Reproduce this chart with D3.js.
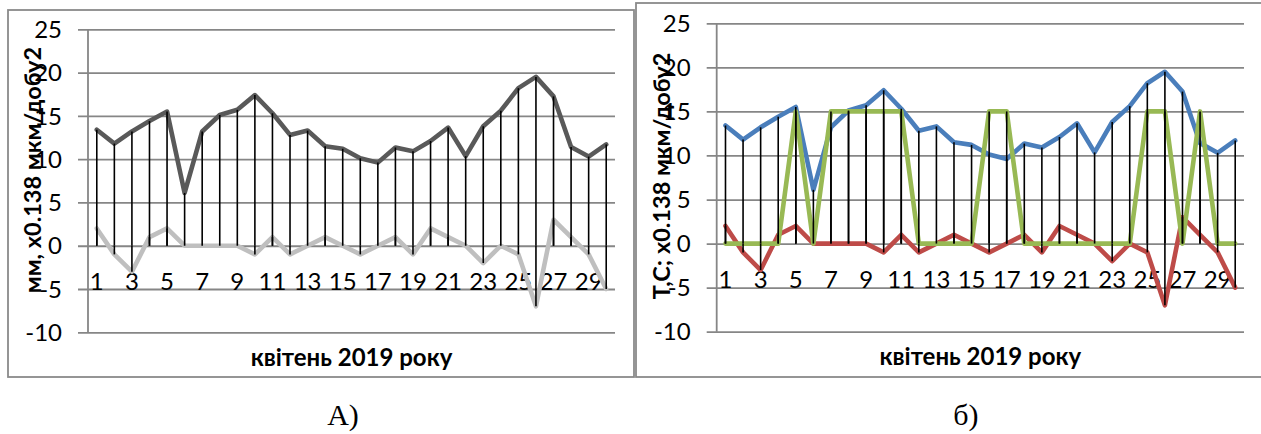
<!DOCTYPE html>
<html>
<head>
<meta charset="utf-8">
<script src="https://cdn.jsdelivr.net/npm/d3@7"></script>
<style>
  html, body { margin: 0; padding: 0; background: #fff; }
  svg { display: block; }
</style>
</head>
<body>
<svg id="chart" width="1261" height="434"></svg>
<script>
// ---- data ----
const days = [1,2,3,4,5,6,7,8,9,10,11,12,13,14,15,16,17,18,19,20,21,22,23,24,25,26,27,28,29,30];
const tickDays = [1,3,5,7,9,11,13,15,17,19,21,23,25,27,29];
const yTicks = [-10,-5,0,5,10,15,20,25];
const deformation = [13.4, 11.8, 13.2, 14.4, 15.5, 6.1, 13.2, 15.1, 15.7, 17.4, 15.3, 12.8, 13.3, 11.5, 11.2, 10.1, 9.6, 11.35, 10.9, 12.1, 13.65, 10.35, 13.8, 15.6, 18.2, 19.5, 17.25, 11.4, 10.3, 11.7];
const precipitation = [2, -1, -3, 1, 2, 0, 0, 0, 0, -1, 1, -1, 0, 1, 0, -1, 0, 1, -1, 2, 1, 0, -2, 0, -1, -7, 3, 1, -1, -5];
const temperature = [0, 0, 0, 0, 15, 0, 15, 15, 15, 15, 15, 0, 0, 0, 0, 15, 15, 0, 0, 0, 0, 0, 0, 0, 15, 15, 0, 15, 0, 0];
const xTitle = "квітень 2019 року";
const yTitleA = "мм, x0.138 мкм/добу2";
const yTitleB = "Т,С; x0.138 мкм/добу2";
const captions = ["А)", "б)"];

const svg = d3.select("#chart");
svg.append("rect").attr("width", 1261).attr("height", 434).attr("fill", "#fff");

const FONT = "Lato, 'Open Sans', sans-serif";

function drawChart(cfg) {
  const g = svg.append("g");
  // frame
  g.append("rect")
    .attr("x", cfg.frame[0]).attr("y", cfg.frame[1])
    .attr("width", cfg.frame[2]).attr("height", cfg.frame[3])
    .attr("fill", "none").attr("stroke", "#8a8a8a").attr("stroke-width", 1.8);

  const x = d3.scaleBand().domain(days).range([cfg.left, cfg.right]).paddingInner(0).paddingOuter(0);
  const cx = d => x(d) + x.bandwidth() / 2;
  const y = d3.scaleLinear().domain([-10, 25]).range([cfg.bottom, cfg.top]);

  // gridlines + tick marks (Excel-style, extending 10px left of the axis)
  const yAxis = d3.axisLeft(y).tickValues(yTicks).tickSize(-(cfg.right - cfg.left) - 10).tickPadding(0).tickFormat(() => "");
  const ga = g.append("g").attr("transform", `translate(${cfg.right},0)`).call(yAxis);
  ga.select(".domain").remove();
  ga.selectAll(".tick line").attr("stroke", "#868686").attr("stroke-width", 1.8)
    .attr("x1", 0).attr("x2", -(cfg.right - cfg.left) - 10);

  // vertical axis line
  g.append("line").attr("x1", cfg.left).attr("x2", cfg.left)
    .attr("y1", cfg.top).attr("y2", cfg.bottom)
    .attr("stroke", "#868686").attr("stroke-width", 1.8);

  // y tick labels
  g.append("g").selectAll("text").data(yTicks).join("text")
    .attr("x", cfg.left - 26).attr("y", d => y(d))
    .attr("dy", "0.36em").attr("text-anchor", "end")
    .attr("font-family", FONT).attr("font-size", 24).attr("fill", "#000")
    .text(d => d);

  // x tick labels
  g.append("g").selectAll("text").data(tickDays).join("text")
    .attr("x", d => cx(d)).attr("y", cfg.xLabelY)
    .attr("dy", "0.36em").attr("text-anchor", "middle")
    .attr("font-family", FONT).attr("font-size", 24).attr("fill", "#000")
    .text(d => d);

  // series lines
  const line = d3.line().x((d, i) => cx(days[i])).y(d => y(d));
  cfg.series.forEach(s => {
    g.append("path").datum(s.values).attr("d", line)
      .attr("fill", "none").attr("stroke", s.color).attr("stroke-width", 4.6)
      .attr("stroke-linejoin", "round").attr("stroke-linecap", "round");
  });

  // drop lines (each series point down to the category axis at 0)
  cfg.series.forEach(s => {
    g.append("g").selectAll("line").data(s.values).join("line")
      .attr("x1", (d, i) => cx(days[i])).attr("x2", (d, i) => cx(days[i]))
      .attr("y1", d => y(d)).attr("y2", y(0))
      .attr("stroke", "#000").attr("stroke-width", 1.6);
  });

  // axis titles
  g.append("text")
    .attr("transform", `translate(${cfg.yTitleX},${cfg.yTitleY}) rotate(-90)`)
    .attr("text-anchor", "middle").attr("dy", "0.35em")
    .attr("font-family", FONT).attr("font-weight", "bold").attr("font-size", 23.5).attr("fill", "#000")
    .text(cfg.yTitle);
  g.append("text")
    .attr("x", (cfg.left + cfg.right) / 2).attr("y", cfg.xTitleY)
    .attr("text-anchor", "middle").attr("dy", "0.35em")
    .attr("font-family", FONT).attr("font-weight", "bold").attr("font-size", 24).attr("fill", "#000")
    .text(xTitle);

  // caption
  svg.append("text")
    .attr("x", cfg.captionX).attr("y", 425)
    .attr("text-anchor", "middle")
    .attr("font-family", "'Liberation Serif', 'Times New Roman', serif").attr("font-size", 30).attr("fill", "#000")
    .text(cfg.caption);
}

drawChart({
  frame: [8, 10, 626, 367],
  left: 88, right: 615, top: 29.3, bottom: 332.3,
  xLabelY: 281, xTitleY: 358,
  yTitle: yTitleA, yTitleX: 33, yTitleY: 170,
  caption: captions[0], captionX: 343,
  series: [
    { values: deformation, color: "#595959" },
    { values: precipitation, color: "#bfbfbf" }
  ]
});

drawChart({
  frame: [636, 3, 630, 374],
  left: 716.7, right: 1244, top: 23.3, bottom: 331.7,
  xLabelY: 279, xTitleY: 357,
  yTitle: yTitleB, yTitleX: 662, yTitleY: 176,
  caption: captions[1], captionX: 966,
  series: [
    { values: deformation, color: "#4a7ebb" },
    { values: precipitation, color: "#be4b48" },
    { values: temperature, color: "#98b954" }
  ]
});
</script>
</body>
</html>
